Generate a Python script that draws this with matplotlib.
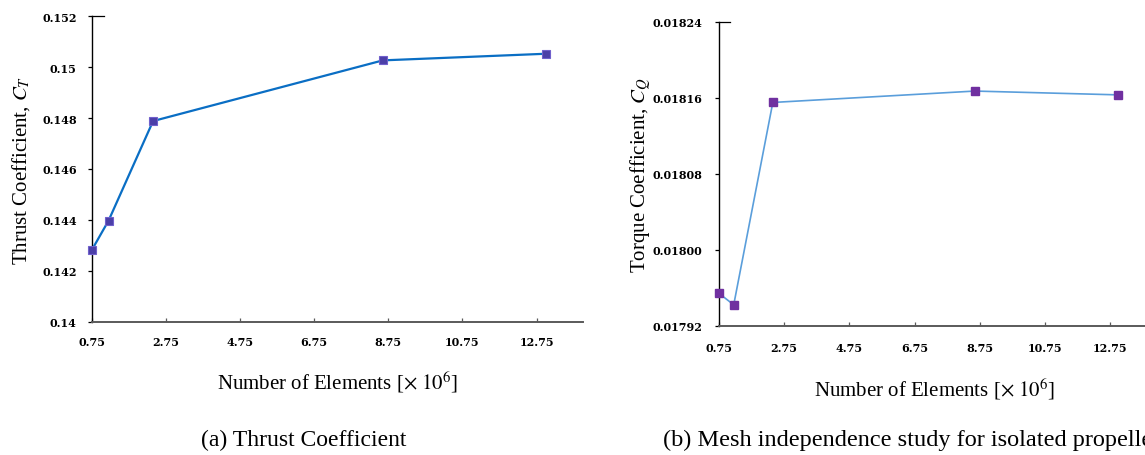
import matplotlib
matplotlib.use("Agg")
import matplotlib.pyplot as plt

# mesh sizes (millions of elements)
elements = [0.75, 1.2, 2.4, 8.6, 13.0]
# thrust coefficient C_T
ct = [0.14283, 0.14398, 0.14788, 0.15026, 0.15052]
# torque coefficient C_Q
cq = [0.017954, 0.017942, 0.018155, 0.018167, 0.018163]

xticks = [0.75, 2.75, 4.75, 6.75, 8.75, 10.75, 12.75]
ct_ticks = [0.14, 0.142, 0.144, 0.146, 0.148, 0.15, 0.152]
ct_labels = ["0.14", "0.142", "0.144", "0.146", "0.148", "0.15", "0.152"]
cq_ticks = [0.01792, 0.01800, 0.01808, 0.01816, 0.01824]
cq_labels = ["0.01792", "0.01800", "0.01808", "0.01816", "0.01824"]

plt.rcParams["font.family"] = "Liberation Serif"
plt.rcParams["mathtext.fontset"] = "stix"

fig = plt.figure(figsize=(11.45, 4.56), dpi=100)
ax1 = fig.add_axes([0.0803, 0.2917, 0.4288, 0.671])
ax2 = fig.add_axes([0.628, 0.2835, 0.377, 0.6667])


def style(ax, yt, yl, ylim, xpad, ypad):
    ax.set_xlim(0.75, 14)
    ax.set_ylim(*ylim)
    ax.set_xticks(xticks)
    ax.set_xticklabels([str(t) for t in xticks])
    ax.set_yticks(yt)
    ax.set_yticklabels(yl)
    for s in ["top", "right"]:
        ax.spines[s].set_visible(False)
    ax.spines["left"].set_linewidth(1.0)
    ax.spines["left"].set_color("black")
    ax.spines["bottom"].set_linewidth(1.4)
    ax.spines["bottom"].set_color("#5a5a5a")
    ax.tick_params(axis="x", direction="in", length=3, width=0.9,
                   color="#5a5a5a", pad=xpad)
    ax.tick_params(axis="y", direction="out", length=3, width=0.9, pad=ypad)
    for lab in ax.get_xticklabels() + ax.get_yticklabels():
        lab.set_fontfamily("DejaVu Serif")
        lab.set_fontweight("bold")
        lab.set_fontsize(8)
    # small inward cap at the top of the y axis
    ax.plot([0, 0.025], [1, 1], transform=ax.transAxes, color="black",
            lw=0.9, clip_on=False)
    ax.set_xlabel(r"Number of Elements [$\times\ 10^6$]", fontsize=15,
                  labelpad=16)


ax1.plot(elements, ct, color="#0A6EC4", lw=1.6, marker="s", markersize=6,
         markerfacecolor="#4B3FA8", markeredgecolor="#7060CC",
         markeredgewidth=0.8, clip_on=False, zorder=3)
style(ax1, ct_ticks, ct_labels, (0.14, 0.152), 10, 8)
ax1.set_ylabel(r"Thrust Coefficient, $C_T$", fontsize=15, labelpad=7)

ax2.plot(elements, cq, color="#5A9EDB", lw=1.2, marker="s", markersize=6,
         markerfacecolor="#7030A0", markeredgecolor="#7030A0",
         clip_on=False, zorder=3)
style(ax2, cq_ticks, cq_labels, (0.01792, 0.01824), 12, 9)
ax2.set_ylabel(r"Torque Coefficient, $C_Q$", fontsize=15, labelpad=0)

fig.text(0.2655, 0.035, "(a) Thrust Coefficient", ha="center", va="center",
         fontsize=17)
fig.text(0.579, 0.035, "(b) Mesh independence study for isolated propeller",
         ha="left", va="center", fontsize=17.5)

fig.savefig("out.png", dpi=100)
